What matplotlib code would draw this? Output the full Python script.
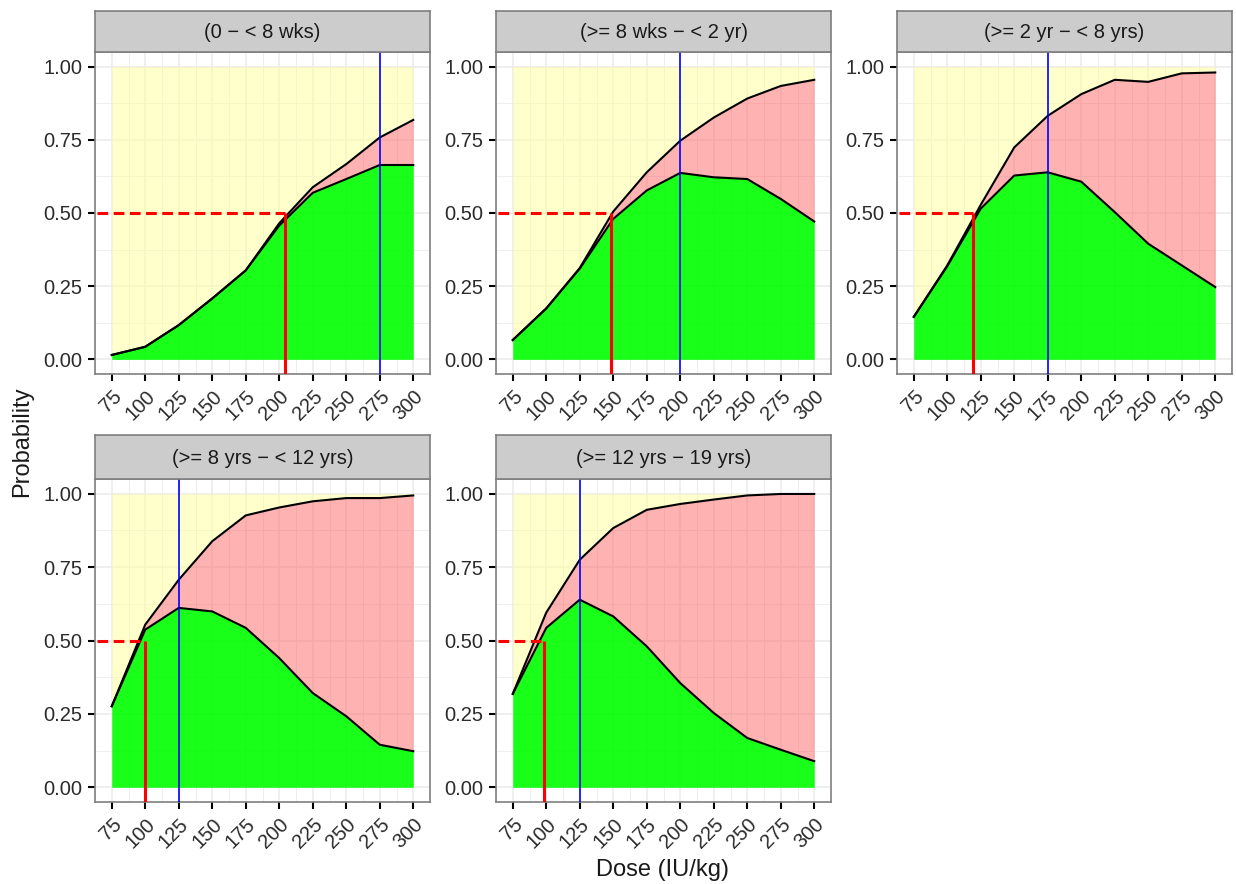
import matplotlib
matplotlib.use("Agg")
import matplotlib.pyplot as plt
import numpy as np

plt.rcParams.update({"font.family": ["Liberation Sans", "DejaVu Sans"]})

dose = [75, 100, 125, 150, 175, 200, 225, 250, 275, 300]
groups = ["(0 \u2212 < 8 wks)", "(>= 8 wks \u2212 < 2 yr)", "(>= 2 yr \u2212 < 8 yrs)",
          "(>= 8 yrs \u2212 < 12 yrs)", "(>= 12 yrs \u2212 19 yrs)"]
# upper curve (total response) and lower curve (in-target response), per group
upper_1 = [0.015, 0.043, 0.117, 0.208, 0.304, 0.465, 0.588, 0.667, 0.758, 0.818]
lower_1 = [0.015, 0.043, 0.117, 0.208, 0.304, 0.457, 0.569, 0.616, 0.664, 0.664]
upper_2 = [0.066, 0.174, 0.312, 0.505, 0.639, 0.747, 0.826, 0.891, 0.934, 0.955]
lower_2 = [0.066, 0.174, 0.310, 0.480, 0.577, 0.637, 0.622, 0.616, 0.548, 0.471]
upper_3 = [0.145, 0.321, 0.528, 0.724, 0.832, 0.906, 0.955, 0.948, 0.977, 0.980]
lower_3 = [0.145, 0.318, 0.515, 0.628, 0.639, 0.607, 0.503, 0.395, 0.321, 0.247]
upper_4 = [0.276, 0.554, 0.707, 0.838, 0.926, 0.953, 0.974, 0.985, 0.985, 0.994]
lower_4 = [0.276, 0.537, 0.611, 0.599, 0.543, 0.440, 0.321, 0.242, 0.145, 0.123]
upper_5 = [0.318, 0.595, 0.775, 0.883, 0.945, 0.965, 0.980, 0.994, 0.999, 0.999]
lower_5 = [0.318, 0.543, 0.639, 0.582, 0.480, 0.355, 0.253, 0.168, 0.128, 0.089]
uppers = [upper_1, upper_2, upper_3, upper_4, upper_5]
lowers = [lower_1, lower_2, lower_3, lower_4, lower_5]
dose_50 = [204, 148, 119, 100, 98]      # dose at 50% response (red)
dose_opt = [275, 200, 175, 125, 125]    # dose at max in-target (blue)
thr = 0.5

W, H = 1236, 884
fig = plt.figure(figsize=(W / 100, H / 100), dpi=100)
lefts = [95, 496, 897]
rows = [(52, 374, 11), (479, 802, 435)]  # (top, bottom, strip top) in px
GRID = "#EBEBEB"; BORDER = "#7F7F7F"; TXT = "#2b2b2b"
xlim = (63.75, 311.25); ylim = (-0.05, 1.05)

for i, g in enumerate(groups):
    r, c = divmod(i, 3)
    top, bot, stop = rows[r]
    l = lefts[c]
    ax = fig.add_axes([l / W, 1 - bot / H, 335 / W, (bot - top) / H])
    sx = fig.add_axes([l / W, 1 - top / H, 335 / W, (top - stop) / H])
    sx.set_facecolor("#CCCCCC"); sx.set_xticks([]); sx.set_yticks([])
    for sp in sx.spines.values(): sp.set_color(BORDER); sp.set_linewidth(1.2)
    sx.text(0.5, 0.47, g, ha="center", va="center", fontsize=14.5, color="#1a1a1a", transform=sx.transAxes)

    up, lo = np.array(uppers[i]), np.array(lowers[i])
    ax.set_xlim(*xlim); ax.set_ylim(*ylim)
    ax.set_xticks(dose); ax.set_xticks(np.arange(62.5, 320, 25), minor=True)
    ax.set_yticks([0, 0.25, 0.5, 0.75, 1.0]); ax.set_yticks(np.arange(0.125, 1.0, 0.25), minor=True)
    ax.grid(which="major", color=GRID, lw=1.1, zorder=0)
    ax.grid(which="minor", color=GRID, lw=0.6, zorder=0)
    ax.set_axisbelow(True)
    ax.fill_between(dose, up, 1, color="#FFFF99", alpha=0.5, lw=0, zorder=1)
    ax.fill_between(dose, lo, up, color="#FF6666", alpha=0.5, lw=0, zorder=1)
    ax.fill_between(dose, 0, lo, color="#00FF00", alpha=0.9, lw=0, zorder=1)
    ax.plot(dose, up, color="black", lw=1.5, zorder=3)
    ax.plot(dose, lo, color="black", lw=1.5, zorder=3)
    ax.axvline(dose_opt[i], color="#0000FF", lw=1.2, zorder=4)
    ax.plot([dose_50[i], dose_50[i]], [ylim[0], thr], color="#FF0000", lw=2.2, zorder=5, solid_capstyle="butt")
    ax.plot([xlim[0], dose_50[i]], [thr, thr], color="#FF0000", lw=2.2, ls=(0, (3.5, 1.8)), zorder=5)

    ax.set_yticklabels(["0.00", "0.25", "0.50", "0.75", "1.00"], fontsize=14.5, color=TXT)
    ax.set_xticklabels([str(d) for d in dose], fontsize=14.5, color=TXT, rotation=45,
                       ha="right", va="top", rotation_mode="anchor")
    ax.tick_params(which="major", length=5, width=1.5, color="black", pad=4)
    ax.tick_params(which="minor", length=0)
    for sp in ax.spines.values(): sp.set_color(BORDER); sp.set_linewidth(1.2)

fig.text(22 / W, 0.5, "Probability", rotation=90, ha="center", va="center", fontsize=17, color="#1a1a1a")
fig.text(663 / W, 1 - 870 / H, "Dose (IU/kg)", ha="center", va="center", fontsize=17, color="#1a1a1a")
fig.savefig("out.png", dpi=100)
